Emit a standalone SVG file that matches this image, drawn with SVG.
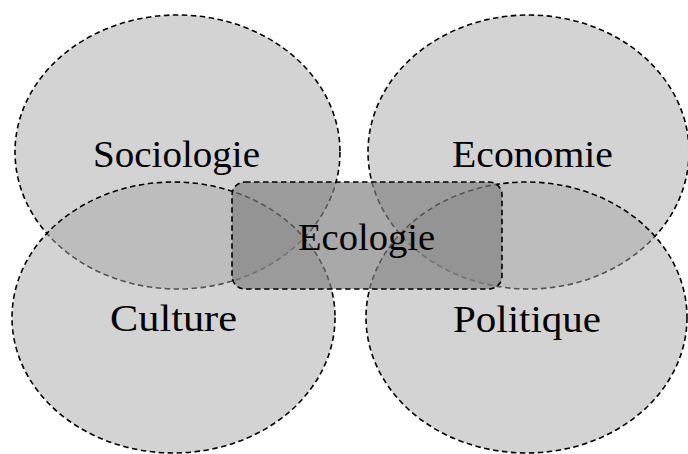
<svg xmlns="http://www.w3.org/2000/svg" width="688" height="454" viewBox="0 0 688 454">
<style>
.el{fill:#a7a7a7;fill-opacity:0.5;stroke:#000;stroke-width:1.6;stroke-dasharray:5.5 3.5}
.rc{fill:#808080;fill-opacity:0.68;stroke:#000;stroke-width:1.6;stroke-dasharray:5.5 3.5}
.t{font-family:"Liberation Serif","DejaVu Serif",serif;font-size:38px;fill:#000;text-anchor:middle}
</style>
<rect width="688" height="454" fill="#fff"/>
<g id="sociologie"><ellipse class="el" cx="177.5" cy="152" rx="162.5" ry="137"/></g>
<g id="economie"><ellipse class="el" cx="528.5" cy="152" rx="160.5" ry="137"/></g>
<g id="culture"><ellipse class="el" cx="173.5" cy="317.5" rx="161.5" ry="135.5"/></g>
<g id="politique"><ellipse class="el" cx="526.5" cy="317.5" rx="160.5" ry="135.5"/></g>
<g id="ecologie"><rect class="rc" x="232" y="182" width="270" height="107" rx="13" ry="13"/></g>
<g id="labels">
<text class="t" x="176.5" y="167" textLength="167" lengthAdjust="spacingAndGlyphs">Sociologie</text>
<text class="t" x="532.5" y="167" textLength="161" lengthAdjust="spacingAndGlyphs">Economie</text>
<text class="t" x="173.5" y="331" textLength="127" lengthAdjust="spacingAndGlyphs">Culture</text>
<text class="t" x="527" y="332" textLength="148" lengthAdjust="spacingAndGlyphs">Politique</text>
<text class="t" x="366.5" y="250" textLength="137" lengthAdjust="spacingAndGlyphs">Ecologie</text>
</g>
<g id="connectors"/>
</svg>
